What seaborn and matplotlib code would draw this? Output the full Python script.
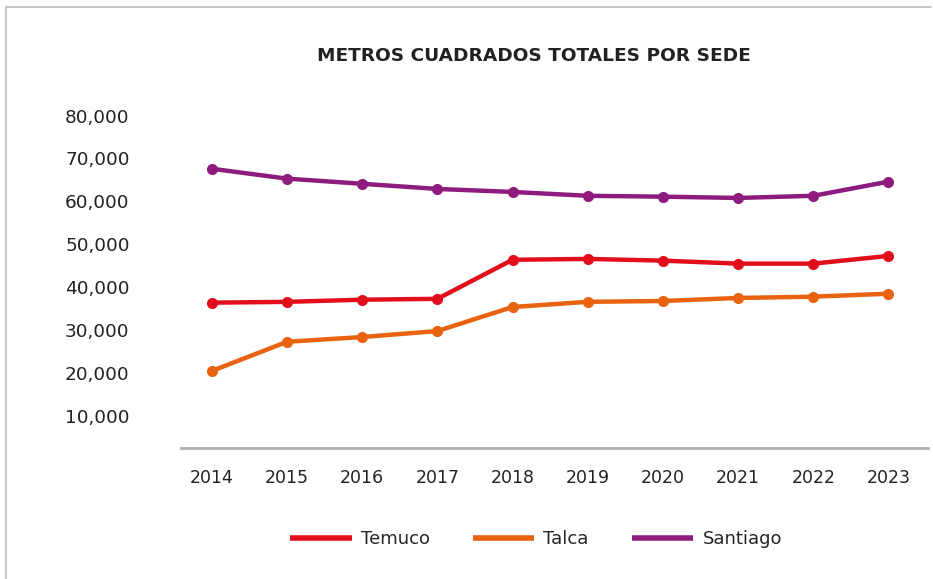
import matplotlib
matplotlib.use("Agg")
import matplotlib.pyplot as plt
import seaborn as sns
import pandas as pd
from matplotlib.lines import Line2D
from matplotlib.ticker import FuncFormatter

years = ["2014", "2015", "2016", "2017", "2018", "2019", "2020", "2021", "2022", "2023"]
temuco = [36400, 36600, 37100, 37300, 46400, 46600, 46200, 45500, 45500, 47300]
talca = [20500, 27300, 28400, 29800, 35400, 36600, 36800, 37500, 37800, 38500]
santiago = [67600, 65300, 64100, 62900, 62200, 61300, 61100, 60800, 61300, 64600]
series_names = ["Temuco", "Talca", "Santiago"]
colors = ["#E30E1B", "#E8620F", "#8E1C7F"]
yticks = [10000, 20000, 30000, 40000, 50000, 60000, 70000, 80000]
title = "METROS CUADRADOS TOTALES POR SEDE"

sns.set_theme(style="white")
plt.rcParams['font.family'] = ['DejaVu Sans']

rows = []
for name, vals in zip(series_names, [temuco, talca, santiago]):
    for i, (y, v) in enumerate(zip(years, vals)):
        rows.append({"pos": i, "year": y, "value": v, "sede": name})
df = pd.DataFrame(rows)

fig = plt.figure(figsize=(9.33, 5.79), dpi=100)
ax = fig.add_axes([0.194, 0.2263, 0.801, 0.589])

sns.lineplot(data=df, x="pos", y="value", hue="sede", hue_order=series_names,
             palette=colors, marker="o", markersize=8, markeredgewidth=0,
             linewidth=3.2, ax=ax, legend=False)

ax.set_xlim(-0.41, 9.53)
ax.set_ylim(2560, 82000)
ax.set_xticks(range(len(years)))
ax.set_xticklabels(years)
ax.set_yticks(yticks)
ax.yaxis.set_major_formatter(FuncFormatter(lambda v, p: f"{int(v):,}"))
ax.set_xlabel("")
ax.set_ylabel("")
for s in ["top", "right", "left"]:
    ax.spines[s].set_visible(False)
ax.spines["bottom"].set_color("#b0b0b0")
ax.spines["bottom"].set_linewidth(2)
ax.tick_params(axis="x", length=0, pad=15, labelsize=12.5, colors="#222222")
ax.tick_params(axis="y", length=0, pad=37, labelsize=13.3, colors="#222222")
ax.grid(False)

fig.text(0.572, 0.903, title, ha="center", va="center", fontsize=13.3,
         fontweight="bold", color="#222222")

handles = [Line2D([0], [0], color=c, lw=4, solid_capstyle="butt") for c in colors]
fig.legend(handles, series_names, loc="center", bbox_to_anchor=(0.5745, 0.069),
           ncol=3, frameon=False, fontsize=13, handlelength=3.4,
           columnspacing=2.4, handletextpad=0.5)

# figure frame (top and left)
fig.add_artist(Line2D([0.0065, 0.998], [0.988, 0.988], transform=fig.transFigure,
                      color="#bbbbbb", lw=1.2))
fig.add_artist(Line2D([0.0065, 0.0065], [0.0, 0.988], transform=fig.transFigure,
                      color="#bbbbbb", lw=1.2))

fig.savefig("out.png", dpi=100)
